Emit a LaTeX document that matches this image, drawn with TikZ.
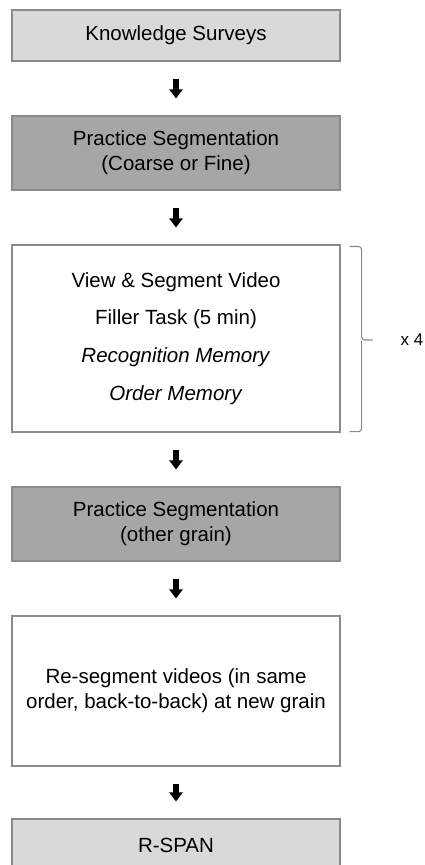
\documentclass[tikz,border=0pt]{standalone}
\usepackage{fontspec}
\setmainfont{Liberation Sans}
\usetikzlibrary{arrows.meta,positioning,calc}

\definecolor{lightbox}{HTML}{D9D9D9}
\definecolor{darkbox}{HTML}{A6A6A6}
\definecolor{rule}{HTML}{8A8A8A}

\begin{document}
\begin{tikzpicture}[
    x=1pt, y=-1pt,
    box/.style={draw=rule, line width=1.1pt, rectangle, minimum width=328pt, align=center, font=\fontsize{20.5}{25}\selectfont},
    flow/.style={line width=6.6pt, draw=black, -{Triangle[width=13pt,length=9pt]}, shorten <=17pt, shorten >=17pt},
    bracket/.style={draw=rule, line width=1.1pt, rounded corners=3pt},
    label/.style={font=\fontsize{17}{20}\selectfont},
]

\useasboundingbox (0,0) rectangle (425,865);

% Steps
\node[box, fill=lightbox, minimum height=51pt] (surveys) at (176, 35.5) {Knowledge Surveys};
\node[box, fill=darkbox, minimum height=74pt] (practice1) at (176, 153) {Practice Segmentation\\(Coarse or Fine)};
\node[box, fill=white, minimum height=187pt, font=\fontsize{20.5}{37.7}\selectfont] (block) at (176, 338.5)
  {View \& Segment Video\\Filler Task (5 min)\\\textit{Recognition Memory}\\\textit{Order Memory}};
\node[box, fill=darkbox, minimum height=74pt] (practice2) at (176, 524) {Practice Segmentation\\(other grain)};
\node[box, fill=white, minimum height=150pt] (resegment) at (176, 691) {Re-segment videos (in same\\order, back-to-back) at new grain};
\node[box, fill=lightbox, minimum height=52pt] (rspan) at (176, 845) {R-SPAN};

\draw[flow] (surveys) -- (practice1);
\draw[flow] (practice1) -- (block);
\draw[flow] (block) -- (practice2);
\draw[flow] (practice2) -- (resegment);
\draw[flow] (resegment) -- (rspan);

% Repeat bracket
\coordinate (btop) at ($(block.north east)+(9,2)$);
\coordinate (bbot) at ($(block.south east)+(9,-1)$);
\coordinate (bmid) at ($(block.east)+(32,1.5)$);
\draw[bracket] (btop) -- ++(12,0) |- (bmid);
\draw[bracket] (bbot) -- ++(12,0) -- ($(bbot)+(12,-91)$);

\node[label] (repeat) at (412, 340) {x 4};

\end{tikzpicture}
\end{document}
